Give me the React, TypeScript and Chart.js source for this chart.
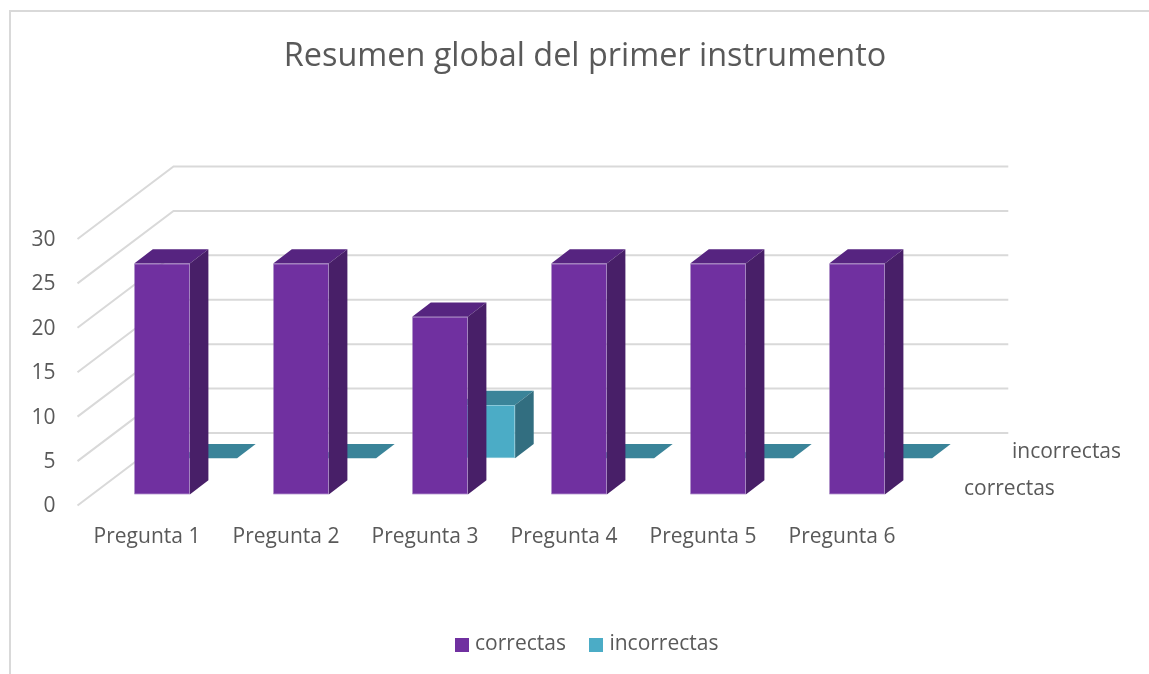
import React, { useEffect, useRef } from "react";
import { Chart, registerables } from "chart.js";

Chart.register(...registerables);

const categories = ["Pregunta 1", "Pregunta 2", "Pregunta 3", "Pregunta 4", "Pregunta 5", "Pregunta 6"];
const correctas = [26, 26, 20, 26, 26, 26];
const incorrectas = [0, 0, 6, 0, 0, 0];
const seriesNames = ["correctas", "incorrectas"];

const WIDTH = 1149;
const HEIGHT = 674;
const FONT = '"Open Sans", sans-serif';
const TEXT = "#595959";
const GRID = "#d9d9d9";
const LABEL_SIZE = 21;
const LEGEND_SHIFT = 4;

// Projection of the fake 3D box, in pixels
const WALL = { dx: 96, dy: -72.5, right: 1008.3 };
const BAR_DEPTH = { dx: 18.6, dy: -14.2 };
const ROW_SHIFT = [
  { dx: 15, dy: -11 },
  { dx: 62.3, dy: -47.3 },
];
const ROW_LABEL = [
  { dx: 52.5, dy: -16.5 },
  { dx: 100.5, dy: -53 },
];
const FACE = [
  { front: "#7030A0", top: "#562480", side: "#481F68", edge: "#8556AE" },
  { front: "#4BACC6", top: "#3A8499", side: "#326E80", edge: "#7FC4D6" },
];

function swatch(color: string) {
  const c = document.createElement("canvas");
  c.width = 14;
  c.height = 14;
  const g = c.getContext("2d") as CanvasRenderingContext2D;
  g.fillStyle = color;
  g.fillRect(0, 0, 14, 14);
  return c;
}

const box3d = {
  id: "box3d",
  afterLayout(chart: any) {
    chart.legend.left += LEGEND_SHIFT;
    chart.legend.right += LEGEND_SHIFT;
  },
  beforeDraw(chart: any) {
    const { ctx } = chart;
    ctx.save();
    ctx.strokeStyle = GRID;
    ctx.lineWidth = 2;
    ctx.beginPath();
    ctx.moveTo(10, HEIGHT);
    ctx.lineTo(10, 11);
    ctx.lineTo(WIDTH, 11);
    ctx.stroke();
    ctx.restore();
  },
  beforeDatasetsDraw(chart: any) {
    const { ctx, chartArea, scales } = chart;
    const y = scales.y;
    ctx.save();
    ctx.strokeStyle = GRID;
    ctx.lineWidth = 2;
    y.ticks.forEach((t: any) => {
      const py = y.getPixelForValue(t.value);
      ctx.beginPath();
      ctx.moveTo(chartArea.left, py);
      ctx.lineTo(chartArea.left + WALL.dx, py + WALL.dy);
      ctx.lineTo(WALL.right, py + WALL.dy);
      ctx.stroke();
    });
    // depth axis labels, taken from the series names
    ctx.fillStyle = TEXT;
    ctx.font = `${LABEL_SIZE}px ${FONT}`;
    ctx.textAlign = "left";
    ctx.textBaseline = "middle";
    const zero = y.getPixelForValue(0);
    seriesNames.forEach((name, i) => {
      ctx.fillText(name, chartArea.right + ROW_LABEL[i].dx, zero + ROW_LABEL[i].dy);
    });
    ctx.restore();
  },
  beforeDatasetDraw(chart: any, args: any) {
    const { ctx } = chart;
    const i = args.index;
    const c = FACE[i];
    ctx.save();
    ctx.translate(ROW_SHIFT[i].dx, ROW_SHIFT[i].dy);
    args.meta.data.forEach((el: any) => {
      const { x, y, base, width } = el.getProps(["x", "y", "base", "width"], true);
      const l = x - width / 2;
      const r = x + width / 2;
      const { dx, dy } = BAR_DEPTH;
      ctx.fillStyle = c.top;
      ctx.beginPath();
      ctx.moveTo(l, y);
      ctx.lineTo(l + dx, y + dy);
      ctx.lineTo(r + dx, y + dy);
      ctx.lineTo(r, y);
      ctx.closePath();
      ctx.fill();
      if (base - y > 0.5) {
        ctx.fillStyle = c.side;
        ctx.beginPath();
        ctx.moveTo(r, y);
        ctx.lineTo(r + dx, y + dy);
        ctx.lineTo(r + dx, base + dy);
        ctx.lineTo(r, base);
        ctx.closePath();
        ctx.fill();
      }
    });
  },
  afterDatasetDraw(chart: any) {
    chart.ctx.restore();
  },
};

export default function App() {
  const ref = useRef<HTMLCanvasElement>(null);
  useEffect(() => {
    document.body.style.margin = "0";
    const chart = new Chart(ref.current as HTMLCanvasElement, {
      type: "bar",
      data: {
        labels: categories,
        datasets: [
          {
            label: seriesNames[0],
            data: correctas,
            backgroundColor: FACE[0].front,
            borderColor: FACE[0].edge,
            borderWidth: 0.75,
            borderSkipped: false,
          },
          {
            label: seriesNames[1],
            data: incorrectas,
            backgroundColor: FACE[1].front,
            borderColor: FACE[1].edge,
            borderWidth: 0.75,
            borderSkipped: false,
          },
        ],
      } as any,
      options: {
        responsive: false,
        animation: false,
        grouped: false,
        clip: false,
        barPercentage: 0.4,
        categoryPercentage: 1,
        layout: { padding: { left: 21, right: 0, top: 0, bottom: 9 } },
        scales: {
          x: {
            grid: { display: false, drawTicks: false },
            border: { display: false },
            ticks: { color: TEXT, font: { family: FONT, size: LABEL_SIZE }, padding: 18.5, maxRotation: 0 },
            afterFit: (s: any) => {
              s.height = 100.5;
            },
          },
          y: {
            min: 0,
            max: 30,
            grid: { display: false, drawTicks: false },
            border: { display: false },
            ticks: { stepSize: 5, color: TEXT, font: { family: FONT, size: LABEL_SIZE }, padding: 22, labelOffset: 1 },
            afterFit: (s: any) => {
              s.width = 56.5;
            },
          },
          spacer: {
            type: "linear",
            position: "right",
            grid: { display: false, drawTicks: false },
            border: { display: false },
            ticks: { display: false },
            afterFit: (s: any) => {
              s.width = 237.5;
            },
          },
        },
        plugins: {
          tooltip: { enabled: false },
          title: {
            display: true,
            text: "Resumen global del primer instrumento",
            color: TEXT,
            font: { family: FONT, size: 32.4, weight: "normal" },
            padding: { top: 37, bottom: 163.1 },
          },
          legend: {
            position: "bottom",
            labels: {
              color: TEXT,
              font: { family: FONT, size: LABEL_SIZE },
              usePointStyle: true,
              pointStyleWidth: 5,
              boxHeight: 14,
              padding: 28,
              generateLabels: (c: any) =>
                Chart.defaults.plugins.legend.labels
                  .generateLabels(c)
                  .map((item: any, i: number) => ({ ...item, pointStyle: swatch(FACE[i].front) })),
            },
          },
        },
      } as any,
      plugins: [box3d],
    });
    return () => chart.destroy();
  }, []);
  return (
    <div style={{ width: WIDTH, height: HEIGHT }}>
      <canvas ref={ref} width={WIDTH} height={HEIGHT} style={{ display: "block" }} />
    </div>
  );
}
